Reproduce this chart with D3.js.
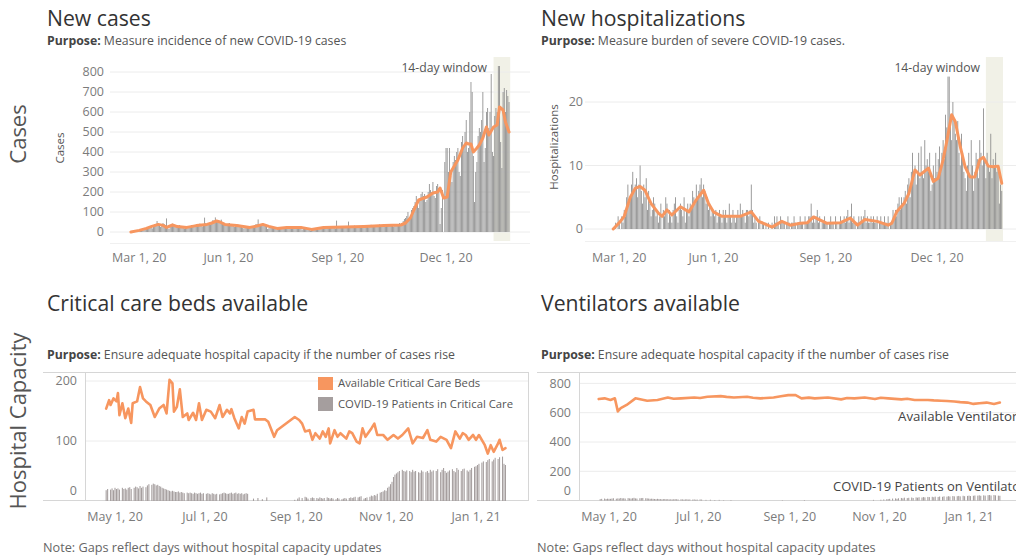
<!DOCTYPE html>
<html>
<head>
<meta charset="utf-8">
<script src="https://cdn.jsdelivr.net/npm/d3@7"></script>
<style>
  body { margin: 0; background: #fff; }
  text { font-family: "Open Sans", Lato, sans-serif; }
</style>
</head>
<body>
<script>
// ---- data ---------------------------------------------------------------

// new cases per day, starting 2020-03-12 (one row per week)
const caseStart = "2020-03-12";
const caseDaily = [
  1,2,3,2,4,6,8,  9,12,8,10,15,18,20,  25,30,22,18,32,40,35,
  55,42,30,25,38,45,40,  35,68,20,15,28,38,42,  30,32,25,22,28,35,30,
  25,22,18,20,25,28,30,  30,35,28,25,32,40,38,  38,42,30,28,40,72,45,
  40,45,38,35,50,60,55,  73,60,50,45,55,62,48,  40,38,32,30,42,45,38,
  35,30,25,28,35,38,32,  30,25,20,18,25,30,28,  22,25,20,24,30,35,38,
  40,63,35,30,38,42,40,  35,25,15,18,25,28,22,  20,18,15,12,20,22,25,
  22,25,18,15,24,28,26,  24,22,18,20,25,26,22,  22,20,15,12,18,22,20,
  15,14,10,8,14,16,15,  18,20,15,12,20,25,22,  24,22,18,20,26,28,25,
  24,26,20,18,57,28,26,  25,28,20,22,28,30,26,  52,28,22,20,30,32,28,
  28,30,24,22,30,34,30,  30,32,25,24,32,36,32,  32,35,28,26,35,38,34,
  34,36,28,26,34,38,35,  35,38,30,28,36,40,38,  40,45,35,38,55,65,70,
  80,100,65,70,110,120,130,  150,180,140,120,170,190,200,  180,190,150,160,200,240,210,
  200,250,180,170,230,240,220,  40,120,210,0,350,420,420,  300,420,280,250,350,380,360,
  400,420,300,280,450,480,430,  500,560,400,420,600,750,700,  380,150,300,350,480,520,500,
  560,700,350,420,600,620,520,  600,790,400,380,580,620,600,  830,830,450,320,700,720,600,
  710,680,650
];
// 7-day average of new cases
const caseAvgDates = [
  "2020-03-11","2020-03-18","2020-03-24","2020-03-28","2020-04-03","2020-04-07","2020-04-10",
  "2020-04-15","2020-04-19","2020-04-27","2020-05-05","2020-05-14","2020-05-18","2020-05-22",
  "2020-05-25","2020-05-29","2020-06-08","2020-06-19","2020-06-25","2020-06-30","2020-07-05",
  "2020-07-12","2020-07-20","2020-08-01","2020-08-10","2020-08-20","2020-09-06","2020-09-23",
  "2020-10-10","2020-10-24","2020-10-28","2020-11-01","2020-11-04","2020-11-08","2020-11-15",
  "2020-11-20","2020-11-24","2020-11-26","2020-11-29","2020-12-02","2020-12-05","2020-12-11",
  "2020-12-15","2020-12-18","2020-12-20","2020-12-22","2020-12-24","2020-12-27","2020-12-29",
  "2021-01-01","2021-01-04","2021-01-06","2021-01-10","2021-01-13","2021-01-15","2021-01-17",
  "2021-01-18","2021-01-20","2021-01-23"
];
const caseAvgValues = [
  0,8,18,27,38,33,23,
  35,27,23,32,38,45,55,
  50,38,32,23,30,38,28,
  18,22,23,13,23,25,28,
  32,35,45,70,110,160,175,
  195,200,220,170,175,300,360,
  420,445,440,440,400,420,435,
  470,525,485,525,535,625,615,
  610,550,500
];

// new hospitalizations per day, starting 2020-03-11
const hospStart = "2020-03-11";
const hospDaily = [
  0,0,1,0,2,1,0,  2,1,3,2,5,7,4,  5,7,9,6,7,8,5,  7,10,6,4,7,5,8,
  3,6,4,2,3,5,4,  2,3,1,2,4,0,3,  2,5,4,1,3,2,1,  3,4,5,2,1,3,4,
  3,2,5,1,3,4,2,  4,3,6,5,4,7,5,  6,7,8,5,7,6,4,  5,3,4,2,3,3,2,
  3,1,2,3,2,1,3,  2,3,1,2,4,2,1,  3,2,1,2,3,2,4,  2,3,2,1,3,3,2,
  3,7,3,1,2,1,0,  1,2,0,1,1,0,1,  0,1,0,0,1,0,2,  1,2,1,0,2,1,1,
  1,0,1,2,1,0,1,  1,2,1,0,1,1,2,  1,1,0,2,1,1,2,  2,4,1,2,1,2,3,
  1,2,0,1,1,2,1,  1,0,1,2,1,1,0,  2,1,0,1,2,1,1,  2,1,2,3,1,2,4,
  1,2,1,0,1,2,1,  2,1,2,3,1,2,1,  1,2,1,2,1,1,2,  0,1,2,1,1,2,1,
  1,2,0,1,1,3,2,  3,2,4,5,3,5,4,  5,6,4,7,8,5,9,  12,8,10,7,9,12,8,
  13,9,8,14,10,11,9,  12,6,7,10,8,12,9,  11,13,10,12,14,11,18,
  16,24,24,18,14,20,17,  15,14,17,12,10,15,12,  9,8,6,10,12,8,14,
  10,6,9,12,11,8,14,  12,10,19,11,8,12,10,  9,15,8,11,10,12,9,
  10,4,7,6
];
const hospAvgDates = [
  "2020-03-11","2020-03-16","2020-03-20","2020-03-25","2020-03-29","2020-04-02","2020-04-06",
  "2020-04-11","2020-04-17","2020-04-20","2020-04-24","2020-04-28","2020-05-05","2020-05-12",
  "2020-05-18","2020-05-24","2020-05-28","2020-06-01","2020-06-08","2020-06-15","2020-06-23",
  "2020-07-02","2020-07-08","2020-07-12","2020-07-19","2020-07-27","2020-08-03","2020-08-08",
  "2020-08-11","2020-08-17","2020-08-22","2020-09-02","2020-09-13","2020-09-21","2020-09-27",
  "2020-10-03","2020-10-13","2020-10-22","2020-10-25","2020-10-29","2020-11-04","2020-11-08",
  "2020-11-13","2020-11-17","2020-11-24","2020-11-28","2020-12-02","2020-12-06","2020-12-09",
  "2020-12-13","2020-12-16","2020-12-20","2020-12-24","2020-12-28","2021-01-01","2021-01-05",
  "2021-01-08","2021-01-12","2021-01-16","2021-01-20","2021-01-23"
];
const hospAvgValues = [
  0,1,2,5,6.4,6.7,6.1,
  4,2.5,2,3,2.2,3.5,2.7,
  4.6,6.1,4,2.7,2,2,2,
  2.7,1.2,0.9,0.3,1.2,0.6,0.8,
  0.9,1,1.9,0.9,1,1.7,0.6,
  1.5,1.2,0.6,0.9,2.7,4,5.6,
  9.3,8.5,9.6,7.5,8,10.9,13.8,
  18,16.9,13,9.8,8.2,8.2,10.9,
  11.3,9.9,9.8,9.9,7.2
];

// critical care: available beds (reported days) and COVID-19 patients per day from 2020-04-25
const icuBedDates = [
  "2020-04-25","2020-04-27","2020-04-28","2020-04-30","2020-05-02","2020-05-03","2020-05-04",
  "2020-05-06","2020-05-08","2020-05-10","2020-05-12","2020-05-13","2020-05-16","2020-05-18",
  "2020-05-20","2020-05-22","2020-05-25","2020-05-28","2020-05-31","2020-06-03","2020-06-05",
  "2020-06-07","2020-06-09","2020-06-10","2020-06-12","2020-06-14","2020-06-16","2020-06-19",
  "2020-06-20","2020-06-23","2020-06-25","2020-06-27","2020-06-29","2020-07-02","2020-07-05",
  "2020-07-08","2020-07-11","2020-07-13","2020-07-16","2020-07-18","2020-07-19","2020-07-21",
  "2020-07-24","2020-07-26","2020-07-28","2020-07-30","2020-08-03","2020-08-04","2020-08-11",
  "2020-08-13","2020-08-17","2020-08-19","2020-08-31","2020-09-03","2020-09-05","2020-09-07",
  "2020-09-10","2020-09-12","2020-09-14","2020-09-17","2020-09-19","2020-09-21","2020-09-23",
  "2020-09-24","2020-09-27","2020-09-29","2020-10-01","2020-10-05","2020-10-07","2020-10-09",
  "2020-10-12","2020-10-14","2020-10-16","2020-10-18","2020-10-22","2020-10-24","2020-10-26",
  "2020-10-30","2020-11-02","2020-11-06","2020-11-09","2020-11-12","2020-11-16","2020-11-19",
  "2020-11-22","2020-11-26","2020-11-29","2020-12-01","2020-12-05","2020-12-08","2020-12-12",
  "2020-12-15","2020-12-18","2020-12-21","2020-12-23","2020-12-25","2020-12-27","2020-12-30",
  "2021-01-01","2021-01-03","2021-01-07","2021-01-09","2021-01-11","2021-01-13","2021-01-16",
  "2021-01-17","2021-01-19","2021-01-21"
];
const icuBedValues = [
  154,168,160,171,166,180,143,
  163,138,154,130,163,166,190,
  171,166,160,140,154,160,146,
  202,196,149,157,186,140,146,
  135,147,135,163,135,152,149,
  138,160,140,152,146,153,138,
  121,140,129,149,152,136,136,
  132,107,118,140,135,129,116,
  118,102,113,104,116,107,121,
  96,118,107,113,104,116,113,
  99,96,121,107,121,129,110,
  110,102,110,104,110,121,96,
  107,105,118,102,99,107,102,
  88,116,104,113,110,102,110,
  102,110,93,79,93,82,96,
  102,85,88
];
const capStart = "2020-04-25";
const icuPatients = [
  18,20,null,19,21,18,22,  20,21,19,null,22,20,21,  19,22,23,20,null,22,24,
  23,21,25,22,24,null,23,  26,28,null,27,29,28,26,  27,25,24,22,21,20,19,
  18,17,16,17,16,15,15,  16,14,15,14,13,null,14,  13,14,13,12,14,13,12,
  13,14,12,13,null,12,13,  12,11,13,12,11,12,null,  11,12,13,14,13,12,12,
  13,14,12,13,14,12,13,  12,13,11,12,13,12,null,  null,null,4,null,null,5,null,
  null,3,null,null,6,null,null,  null,null,null,null,null,null,null,  null,null,null,null,null,null,null,
  null,null,2,null,4,6,null,  5,null,7,6,4,null,5,  6,5,null,5,4,6,5,
  4,5,null,6,5,4,5,  4,null,3,5,4,null,3,  4,5,4,null,5,6,5,
  6,7,null,6,7,8,null,  4,5,6,null,7,9,8,  10,9,12,null,14,15,16,
  18,17,22,24,28,32,40,  44,46,48,50,null,52,50,  49,51,null,50,48,52,49,
  50,null,48,47,51,49,null,  48,50,47,52,49,51,null,  50,53,null,48,52,55,50,
  47,49,51,null,53,50,48,  55,52,null,50,53,54,null,  51,49,52,55,null,57,58,
  60,62,null,64,66,null,65,  68,70,null,66,69,72,null,  70,73,null,74,62,60,null
];

// ventilators: available (reported days) and COVID-19 patients on ventilators per day from 2020-04-25
const ventDates = [
  "2020-04-24","2020-04-28","2020-05-02","2020-05-05","2020-05-07","2020-05-09","2020-05-13",
  "2020-05-19","2020-05-27","2020-06-03","2020-06-10","2020-06-14","2020-06-19","2020-06-28",
  "2020-07-02","2020-07-07","2020-07-16","2020-07-20","2020-07-25","2020-08-03","2020-08-07",
  "2020-08-12","2020-08-21","2020-08-26","2020-08-31","2020-09-05","2020-09-09","2020-09-14",
  "2020-09-18","2020-09-27","2020-10-06","2020-10-10","2020-10-15","2020-10-22","2020-10-29",
  "2020-11-02","2020-11-07","2020-11-16","2020-11-20","2020-11-25","2020-12-04","2020-12-08",
  "2020-12-13","2020-12-17","2020-12-22","2020-12-26","2020-12-31","2021-01-04","2021-01-08",
  "2021-01-13","2021-01-18","2021-01-22"
];
const ventValues = [
  693,698,687,698,609,631,653,
  698,682,687,704,695,698,704,
  700,709,713,708,704,709,702,
  698,704,712,720,720,698,703,
  698,704,691,700,698,704,693,
  702,698,691,695,687,687,684,
  682,680,676,672,669,660,665,
  669,660,669
];
const ventPatients = [
  10,12,null,14,11,13,12,  12,14,16,null,13,15,14,  18,15,16,14,null,17,15,
  14,16,19,15,14,null,16,  17,18,null,16,15,14,12,  13,12,11,10,12,11,10,
  9,10,11,9,10,8,9,  8,9,10,9,8,null,9,  8,7,8,9,7,8,null,
  7,8,6,7,null,8,7,  null,null,5,null,null,6,null,  null,4,null,null,5,null,null,
  3,null,null,null,null,4,null,  null,null,null,null,null,null,null,  null,null,null,null,null,null,null,
  null,null,null,null,null,null,null,  null,null,null,null,null,null,null,  null,null,null,null,null,3,null,
  null,null,null,null,null,null,null,  null,null,null,null,null,null,4,  null,null,null,null,null,null,null,
  null,null,null,null,null,null,null,  null,null,null,null,null,null,null,  null,null,null,null,null,null,null,
  null,null,null,null,null,null,null,  null,null,null,null,null,null,null,  null,null,null,null,5,null,null,
  null,null,6,null,8,null,9,  10,12,null,14,null,15,12,  16,null,18,15,20,null,17,
  19,null,21,18,null,22,20,  23,null,21,24,22,null,25,  24,null,26,23,27,null,25,
  28,null,26,29,null,27,30,  28,null,31,29,null,30,32,  29,null,33,30,null,32,34,
  31,null,33,35,null,34,36,  33,null,36,34,null,37,38,  35,null,38,36,null,34,33
];

// axis ticks
const topTicks = ["2020-03-01","2020-06-01","2020-09-01","2020-12-01"];
const topTickLabels = ["Mar 1, 20","Jun 1, 20","Sep 1, 20","Dec 1, 20"];
const capTicks = ["2020-05-01","2020-07-01","2020-09-01","2020-11-01","2021-01-01"];
const capTickLabels = ["May 1, 20","Jul 1, 20","Sep 1, 20","Nov 1, 20","Jan 1, 21"];
const caseYTicks = [0,100,200,300,400,500,600,700,800];
const hospYTicks = [0,10,20];
const icuYTicks = [0,100,200];
const ventYTicks = [0,200,400,600,800];
const windowDates = ["2021-01-10","2021-01-24"];

// ---- drawing --------------------------------------------------------------

const ORANGE = "#f7965f";
const parse = d3.timeParse("%Y-%m-%d");

const svg = d3.select("body").append("svg")
  .attr("width", 1016)
  .attr("height", 557);

function daily(start, values) {
  const s = parse(start);
  return values.map((v, i) => ({date: d3.timeDay.offset(s, i), value: v}))
               .filter(d => d.value != null);
}
function points(dates, values) {
  return dates.map((d, i) => ({date: parse(d), value: values[i]}));
}

function text(x, y, str, size, color, opts = {}) {
  const t = svg.append("text")
    .attr("x", x).attr("y", y)
    .attr("font-size", size)
    .attr("fill", color)
    .attr("text-anchor", opts.anchor || "start")
    .text(str);
  if (opts.rotate) t.attr("transform", `rotate(-90,${x},${y})`);
  return t;
}

function purpose(x, y, str) {
  const t = svg.append("text").attr("x", x).attr("y", y)
    .attr("font-size", 12.3).attr("fill", "#555");
  t.append("tspan").attr("font-weight", "bold").attr("fill", "#444").text("Purpose:");
  t.append("tspan").text(" " + str);
}

function panel(c) {
  const g = svg.append("g");
  const x = d3.scaleTime().domain(c.xDomain.map(parse)).range(c.xRange);
  const y = d3.scaleLinear().domain(c.yDomain).range(c.yRange);
  const day = x(d3.timeDay.offset(parse(c.xDomain[0]), 1)) - x(parse(c.xDomain[0]));

  if (c.window) {
    const w = c.window.map(parse);
    g.append("rect")
      .attr("x", x(w[0])).attr("width", x(w[1]) - x(w[0]))
      .attr("y", c.windowY[0]).attr("height", c.windowY[1] - c.windowY[0])
      .attr("fill", "#f1f1e7");
  }

  g.selectAll(".grid").data(c.yTicks.filter(v => v !== 0 || c.zeroGrid)).join("line")
    .attr("x1", c.gridX[0]).attr("x2", c.gridX[1])
    .attr("y1", d => y(d)).attr("y2", d => y(d))
    .attr("stroke", "#ececec").attr("stroke-width", 1);

  g.selectAll(".ylab").data(c.yTicks).join("text")
    .attr("x", c.yLabelX)
    .attr("y", d => Math.min(y(d), c.labelFloor))
    .attr("dy", "0.35em")
    .attr("text-anchor", "end")
    .attr("font-size", 12.5).attr("fill", "#7b7b7b")
    .text(d => d);

  g.selectAll(".bar").data(daily(c.barStart, c.bars)).join("rect")
    .attr("x", d => x(d.date) - day * 0.36)
    .attr("width", day * 0.72)
    .attr("y", d => y(d.value))
    .attr("height", d => y(0) - y(d.value))
    .attr("fill", c.barColor);

  g.append("path")
    .datum(points(c.lineDates, c.lineValues))
    .attr("d", d3.line().x(d => x(d.date)).y(d => y(d.value)))
    .attr("fill", "none")
    .attr("stroke", ORANGE)
    .attr("stroke-width", c.lineWidth)
    .attr("stroke-linejoin", "round")
    .attr("stroke-linecap", "round");

  g.selectAll(".xlab").data(c.xTicks).join("text")
    .attr("x", d => x(parse(d)))
    .attr("y", c.xLabelY)
    .attr("dy", "0.35em")
    .attr("text-anchor", "middle")
    .attr("font-size", 12.5).attr("fill", "#7b7b7b")
    .text((d, i) => c.xTickLabels[i])
    .each(function() {
      const w = this.getComputedTextLength();
      const cx = +this.getAttribute("x");
      if (cx - w / 2 < c.paneLeft) this.setAttribute("x", c.paneLeft + w / 2);
    });
  return {x, y, g};
}

// ---- top row ----
text(47, 26, "New cases", 21.2, "#333");
purpose(47, 45, "Measure incidence of new COVID-19 cases");
text(26, 134, "Cases", 22, "#555", {rotate: true, anchor: "middle"});
text(64, 148, "Cases", 11.5, "#555", {rotate: true, anchor: "middle"});

svg.append("line").attr("x1", 110).attr("x2", 530).attr("y1", 243.5).attr("y2", 243.5)
  .attr("stroke", "#f0f0f0");
panel({
  xDomain: ["2020-03-01","2020-12-01"], xRange: [119, 446],
  yDomain: [0, 800], yRange: [232, 72],
  yTicks: caseYTicks, gridX: [110, 530], yLabelX: 104, labelFloor: 999, zeroGrid: true,
  bars: caseDaily, barStart: caseStart, barColor: "#8e8e8e",
  lineDates: caseAvgDates, lineValues: caseAvgValues, lineWidth: 3,
  xTicks: topTicks, xTickLabels: topTickLabels, xLabelY: 258, paneLeft: 112,
  window: windowDates, windowY: [57, 241]
});
text(487, 72, "14-day window", 12.2, "#555", {anchor: "end"});

text(541, 26, "New hospitalizations", 21.2, "#333");
purpose(541, 45, "Measure burden of severe COVID-19 cases.");
text(558, 147, "Hospitalizations", 11.5, "#555", {rotate: true, anchor: "middle"});

svg.append("line").attr("x1", 585).attr("x2", 1016).attr("y1", 241.5).attr("y2", 241.5)
  .attr("stroke", "#f0f0f0");
panel({
  xDomain: ["2020-03-01","2020-12-01"], xRange: [601, 937],
  yDomain: [0, 20], yRange: [229, 102],
  yTicks: hospYTicks, gridX: [585, 1016], yLabelX: 583, labelFloor: 999, zeroGrid: true,
  bars: hospDaily, barStart: hospStart, barColor: "#8e8e8e",
  lineDates: hospAvgDates, lineValues: hospAvgValues, lineWidth: 3,
  xTicks: topTicks, xTickLabels: topTickLabels, xLabelY: 258, paneLeft: 592,
  window: windowDates, windowY: [57, 241]
});
text(980, 72, "14-day window", 12.2, "#555", {anchor: "end"});

// ---- bottom row ----
text(47, 311, "Critical care beds available", 21.2, "#333");
purpose(47, 359, "Ensure adequate hospital capacity if the number of cases rise");
text(26, 421, "Hospital Capacity", 22, "#555", {rotate: true, anchor: "middle"});

const frame = "#d6d6d6";
function box(x0, x1, axisX) {
  svg.append("line").attr("x1", x0).attr("x2", x1).attr("y1", 372.5).attr("y2", 372.5).attr("stroke", frame);
  svg.append("line").attr("x1", x0).attr("x2", x1).attr("y1", 500.5).attr("y2", 500.5).attr("stroke", frame);
  svg.append("line").attr("x1", axisX).attr("x2", axisX).attr("y1", 372).attr("y2", 501).attr("stroke", frame);
}
box(43, 528, 85.5);
svg.append("line").attr("x1", 528.5).attr("x2", 528.5).attr("y1", 372).attr("y2", 501).attr("stroke", frame);

panel({
  xDomain: ["2020-05-01","2021-01-01"], xRange: [115, 476],
  yDomain: [0, 200], yRange: [501, 381],
  yTicks: icuYTicks, gridX: [86, 528], yLabelX: 77, labelFloor: 491, zeroGrid: false,
  bars: icuPatients, barStart: capStart, barColor: "#a59e9e",
  lineDates: icuBedDates, lineValues: icuBedValues, lineWidth: 2.6,
  xTicks: capTicks, xTickLabels: capTickLabels, xLabelY: 517, paneLeft: 86
});

svg.append("rect").attr("x", 318).attr("y", 377).attr("width", 15).attr("height", 13).attr("fill", ORANGE);
svg.append("rect").attr("x", 318).attr("y", 397).attr("width", 15).attr("height", 14).attr("fill", "#a59e9e");
text(338, 387, "Available Critical Care Beds", 11.3, "#555");
text(338, 408, "COVID-19 Patients in Critical Care", 11.3, "#555");
text(43, 552, "Note: Gaps reflect days without hospital capacity updates", 12.7, "#666");

text(541, 311, "Ventilators available", 21.2, "#333");
purpose(541, 359, "Ensure adequate hospital capacity if the number of cases rise");
box(537, 1016, 579.5);

panel({
  xDomain: ["2020-05-01","2021-01-01"], xRange: [609, 969],
  yDomain: [0, 800], yRange: [500.6, 383.4],
  yTicks: ventYTicks, gridX: [580, 1016], yLabelX: 571, labelFloor: 491, zeroGrid: false,
  bars: ventPatients, barStart: capStart, barColor: "#a59e9e",
  lineDates: ventDates, lineValues: ventValues, lineWidth: 2.6,
  xTicks: capTicks, xTickLabels: capTickLabels, xLabelY: 517, paneLeft: 580
});
text(898, 421, "Available Ventilators", 13.3, "#444");
text(833, 491, "COVID-19 Patients on Ventilators", 13, "#444");
text(537, 552, "Note: Gaps reflect days without hospital capacity updates", 12.7, "#666");
</script>
</body>
</html>
